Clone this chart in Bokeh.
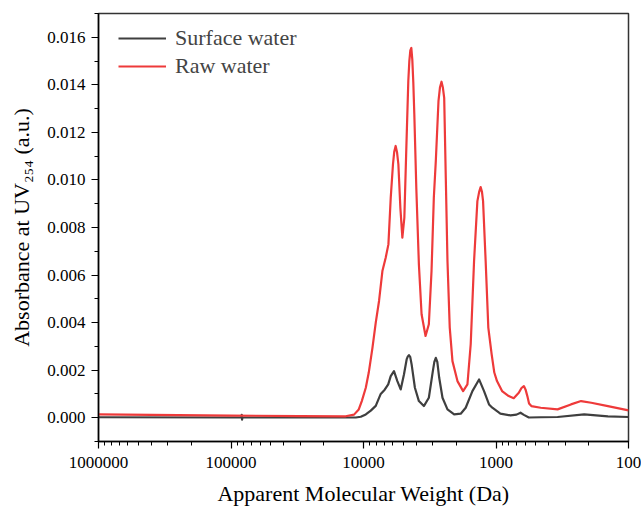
from bokeh.plotting import figure
from bokeh.models import (Range1d, LogTicker, SingleIntervalTicker, PrintfTickFormatter,
                          Legend, LegendItem)
from bokeh.embed import file_html
from bokeh.resources import INLINE

# ---------------- data ----------------
raw_mw = [1000000, 100000, 30000, 13620, 11790, 10860, 10300, 9610, 9125, 8560, 8082,
          7633, 7200, 6800, 6486, 6230, 5991, 5858, 5720, 5580, 5455, 5270, 5090, 4917,
          4750, 4590, 4509, 4431, 4355, 4281, 4208, 4135, 3995, 3819, 3645, 3402, 3212,
          3066, 2946, 2846, 2716, 2646, 2578, 2520, 2460, 2393, 2324, 2234, 2131, 1954,
          1771, 1643, 1552, 1464, 1382, 1340, 1306, 1276, 1252, 1197, 1143, 1079, 1030,
          983, 900, 802, 735, 673, 642, 616, 598, 580, 563, 541, 460, 343, 272, 228,
          191, 143, 100]
raw_abs = [0.00014, 0.00009, 0.00007, 0.00006, 0.00013, 0.00035, 0.00070, 0.00126,
           0.00190, 0.00294, 0.00400, 0.00491, 0.00617, 0.00673, 0.00729, 0.00925,
           0.01066, 0.01120, 0.01143, 0.01115, 0.01066, 0.00883, 0.00757, 0.00841,
           0.01136, 0.01416, 0.01500, 0.01545, 0.01555, 0.01505, 0.01410, 0.01276,
           0.00967, 0.00645, 0.00435, 0.00344, 0.00393, 0.00617, 0.00925, 0.01080,
           0.01333, 0.01390, 0.01413, 0.01390, 0.01345, 0.01009, 0.00659, 0.00379,
           0.00238, 0.00154, 0.00112, 0.00140, 0.00309, 0.00659, 0.00911, 0.00950,
           0.00970, 0.00950, 0.00911, 0.00659, 0.00379, 0.00267, 0.00190, 0.00154,
           0.00112, 0.00091, 0.00082, 0.00105, 0.00125, 0.00133, 0.00118, 0.00091,
           0.00060, 0.00049, 0.00042, 0.00035, 0.00056, 0.00070, 0.00063, 0.00049,
           0.00031]

surf_mw = [1000000, 100000, 83500, 83000, 82500, 82000, 30000, 11430, 10480, 9610,
           8812, 8082, 7413, 6918, 6509, 6230, 5888, 5552, 5240, 4951, 4725, 4627,
           4541, 4440, 4333, 4093, 3819, 3503, 3212, 2997, 2920, 2846, 2773, 2683,
           2534, 2324, 2069, 1846, 1693, 1507, 1342, 1231, 1129, 1066, 927, 778, 700,
           653, 616, 565, 460, 343, 216, 143, 100]
surf_abs = [0.00002, 0.00001, 0.00001, 0.00012, -0.00008, 0.00001, 0.00001, 0.00001,
            0.00004, 0.00014, 0.00030, 0.00050, 0.00100, 0.00118, 0.00140, 0.00175,
            0.00196, 0.00154, 0.00119, 0.00182, 0.00245, 0.00258, 0.00263, 0.00256,
            0.00224, 0.00126, 0.00070, 0.00049, 0.00084, 0.00196, 0.00235, 0.00252,
            0.00235, 0.00168, 0.00084, 0.00035, 0.00014, 0.00017, 0.00042, 0.00112,
            0.00161, 0.00112, 0.00056, 0.00042, 0.00017, 0.00010, 0.00013, 0.00021,
            0.00012, 0.00001, 0.00002, 0.00003, 0.00014, 0.00006, 0.00003]

series_names = ["Surface water", "Raw water"]
series_colors = ["#3f3f3f", "#ee3a3a"]

FONT = "Liberation Serif"

p = figure(width=641, height=509, x_axis_type="log",
           x_range=Range1d(1000000, 100), y_range=Range1d(-0.001, 0.017),
           output_backend="svg", toolbar_location=None,
           min_border_left=98, min_border_right=13, min_border_top=13, min_border_bottom=68)
p.background_fill_color = "white"
p.border_fill_color = "white"
p.grid.visible = False
p.outline_line_color = "#333333"
p.outline_line_width = 1.5

r_surf = p.line(surf_mw, surf_abs, line_color=series_colors[0], line_width=2.2,
                line_join="round")
r_raw = p.line(raw_mw, raw_abs, line_color=series_colors[1], line_width=2.2,
               line_join="round")

# axes
xa = p.xaxis[0]
xa.ticker = LogTicker(num_minor_ticks=10)
xa.formatter = PrintfTickFormatter(format="%d")
xa.axis_label = "Apparent Molecular Weight (Da)"
ya = p.yaxis[0]
ya.ticker = SingleIntervalTicker(interval=0.002, num_minor_ticks=2)
ya.formatter = PrintfTickFormatter(format="%.3f")
ya.axis_label = "Absorbance at UV\u2082\u2085\u2084 (a.u.)"

for ax in (xa, ya):
    ax.axis_line_color = "black"
    ax.axis_line_width = 1.5
    ax.major_tick_line_color = "black"
    ax.minor_tick_line_color = "black"
    ax.major_tick_line_width = 1.2
    ax.minor_tick_line_width = 1.0
    ax.major_tick_out = 7
    ax.major_tick_in = 0
    ax.minor_tick_out = 4
    ax.minor_tick_in = 0
    ax.major_label_text_font = FONT
    ax.major_label_text_font_size = "17px"
    ax.major_label_text_color = "black"
    ax.axis_label_text_font = FONT
    ax.axis_label_text_font_size = "22px"
    ax.axis_label_text_font_style = "normal"
    ax.axis_label_text_color = "black"

xa.major_label_standoff = 8
xa.axis_label_standoff = 10
ya.major_label_standoff = 6
ya.axis_label_standoff = 10

legend = Legend(items=[LegendItem(label=series_names[0], renderers=[r_surf]),
                       LegendItem(label=series_names[1], renderers=[r_raw])],
                location=(20, 362), padding=0, margin=0, spacing=2,
                glyph_width=48, glyph_height=20, label_standoff=9,
                label_text_font=FONT, label_text_font_size="22px",
                border_line_color=None, background_fill_alpha=0)
p.add_layout(legend)

open("out.html", "w").write(file_html(p, INLINE))
